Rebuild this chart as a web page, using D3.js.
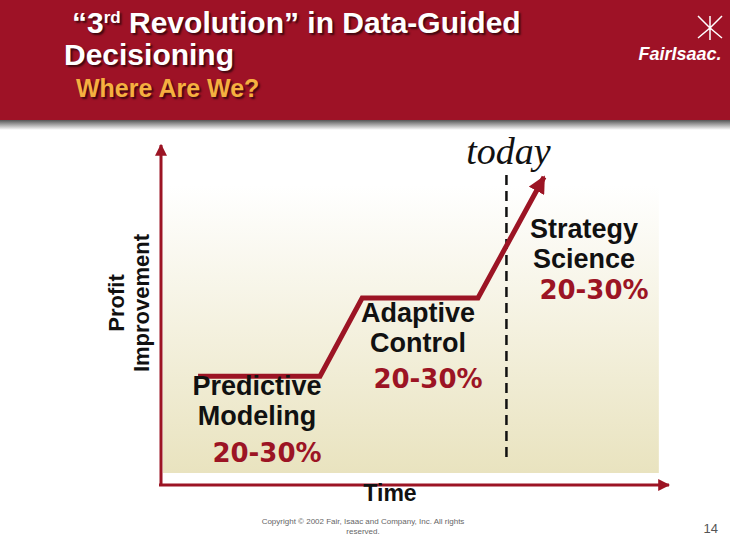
<!DOCTYPE html><html><head><meta charset="utf-8"><script src="https://cdn.jsdelivr.net/npm/d3@7"></script>
<style>body{margin:0;background:#fff}svg{display:block}</style></head><body><svg width="730" height="547"></svg>
<script>
const stages=["Predictive Modeling","Adaptive Control","Strategy Science"];
const gains=["20-30%","20-30%","20-30%"];
const pathT=[0.73,3.13,3.96,6.24,7.54];
const pathP=[3.2,3.2,5.5,5.5,9.06];
const todayT=6.8;
const svg=d3.select("svg");
const x=d3.scaleLinear().domain([0,10]).range([161,669]);
const y=d3.scaleLinear().domain([0,10]).range([485,145]);
const defs=svg.append("defs");
const g=defs.append("linearGradient").attr("id","bg").attr("x1",0).attr("y1",0).attr("x2",0).attr("y2",1);
g.append("stop").attr("offset",0).attr("stop-color","#fff");
g.append("stop").attr("offset",1).attr("stop-color","#e9e3bf");
const hs=defs.append("linearGradient").attr("id","sh").attr("x1",0).attr("y1",0).attr("x2",0).attr("y2",1);
hs.append("stop").attr("offset",0).attr("stop-color","#555");
hs.append("stop").attr("offset",1).attr("stop-color","#fff");
defs.append("marker").attr("id","ah").attr("viewBox","0 0 10 10").attr("refX",9).attr("refY",5).attr("markerWidth",4).attr("markerHeight",4).attr("orient","auto")
 .append("path").attr("d","M0,0L10,5L0,10z").attr("fill","#9c1424");
defs.append("marker").attr("id","ah2").attr("viewBox","0 0 10 10").attr("refX",9).attr("refY",5).attr("markerWidth",3.5).attr("markerHeight",3.5).attr("orient","auto")
 .append("path").attr("d","M0,0L10,5L0,10z").attr("fill","#9c1424");
const F="Liberation Sans, Arial";
// header
svg.append("rect").attr("x",0).attr("y",0).attr("width",730).attr("height",120).attr("fill","#9e1226");
svg.append("rect").attr("x",0).attr("y",120).attr("width",730).attr("height",10).attr("fill","url(#sh)");
const ts="2px 2px 2px rgba(0,0,0,0.6)";
const t1=svg.append("text").attr("x",72).attr("y",33).attr("fill","#fff").attr("font-family",F).attr("font-weight","bold").attr("font-size",30).style("text-shadow",ts);
t1.append("tspan").text("“3");
t1.append("tspan").attr("dy",-10).attr("font-size",17).text("rd");
t1.append("tspan").attr("dy",10).text(" Revolution” in Data-Guided");
svg.append("text").attr("x",64).attr("y",65).attr("fill","#fff").attr("font-family",F).attr("font-weight","bold").attr("font-size",30).style("text-shadow",ts).text("Decisioning");
svg.append("text").attr("x",76).attr("y",97).attr("fill","#f5b040").attr("font-family",F).attr("font-weight","bold").attr("font-size",25).style("text-shadow",ts).text("Where Are We?");
svg.append("text").attr("x",680).attr("y",60).attr("text-anchor","middle").attr("fill","#fff").attr("font-family",F).attr("font-style","italic").attr("font-size",18).attr("font-weight","bold").text("FairIsaac.");
svg.append("path").attr("d","M698,16 L710,28 L722,16 M698,38 L710,28 L722,38 M710,16 L710,40").attr("stroke","#fff").attr("stroke-width",1.5).attr("fill","none");
// background
svg.append("rect").attr("x",x(0)+2).attr("y",185).attr("width",x(9.8)-x(0)-2).attr("height",y(0)-185-12).attr("fill","url(#bg)");
// axes
svg.append("line").attr("x1",x(0)).attr("y1",y(0)).attr("x2",x(0)).attr("y2",y(10)).attr("stroke","#9c1424").attr("stroke-width",3).attr("marker-end","url(#ah)");
svg.append("line").attr("x1",x(0)-2).attr("y1",y(0)).attr("x2",x(10)).attr("y2",y(0)).attr("stroke","#9c1424").attr("stroke-width",3).attr("marker-end","url(#ah)");
// today
svg.append("line").attr("x1",x(todayT)).attr("x2",x(todayT)).attr("y1",175).attr("y2",y(0.8)).attr("stroke","#111").attr("stroke-width",2.5).attr("stroke-dasharray","10,6");
svg.append("text").attr("x",x(todayT)+2).attr("y",164).attr("text-anchor","middle").attr("font-family","Liberation Serif, Times New Roman").attr("font-style","italic").attr("font-size",38).attr("fill","#111").text("today");
// path
const line=d3.line().x((d,i)=>x(pathT[i])).y((d,i)=>y(pathP[i]));
svg.append("path").attr("d",line(pathT)).attr("fill","none").attr("stroke","#9c1424").attr("stroke-width",5).attr("marker-end","url(#ah2)");
// labels
const lab=[[257,[395,425],462],[418,[322,352],388],[584,[238,268],299]];
lab.forEach((l,i)=>{
 const w=stages[i].split(" ");
 w.forEach((s,j)=>svg.append("text").attr("x",l[0]).attr("y",l[1][j]).attr("text-anchor","middle").attr("font-family",F).attr("font-weight","bold").attr("font-size",27).attr("fill","#111").text(s));
 svg.append("text").attr("x",l[0]+10).attr("y",l[2]).attr("text-anchor","middle").attr("font-family","DejaVu Sans").attr("font-weight","bold").attr("font-size",26).attr("fill","#9c1424").text(gains[i]);
});
svg.append("text").attr("x",390).attr("y",501).attr("text-anchor","middle").attr("font-family",F).attr("font-weight","bold").attr("font-size",23).attr("fill","#111").text("Time");
svg.append("text").attr("transform","translate(124,303) rotate(-90)").attr("text-anchor","middle").attr("font-family",F).attr("font-weight","bold").attr("font-size",22).attr("fill","#111")
 .selectAll("tspan").data(["Profit","Improvement"]).join("tspan").attr("x",0).attr("dy",(d,i)=>i?25:0).text(d=>d);
svg.append("text").attr("x",363).attr("y",524).attr("text-anchor","middle").attr("font-family",F).attr("font-size",8).attr("fill","#666").text("Copyright © 2002 Fair, Isaac and Company, Inc. All rights");
svg.append("text").attr("x",363).attr("y",534).attr("text-anchor","middle").attr("font-family",F).attr("font-size",8).attr("fill","#666").text("reserved.");
svg.append("text").attr("x",718).attr("y",533).attr("text-anchor","end").attr("font-family",F).attr("font-size",13).attr("fill","#555").text("14");
</script></body></html>
